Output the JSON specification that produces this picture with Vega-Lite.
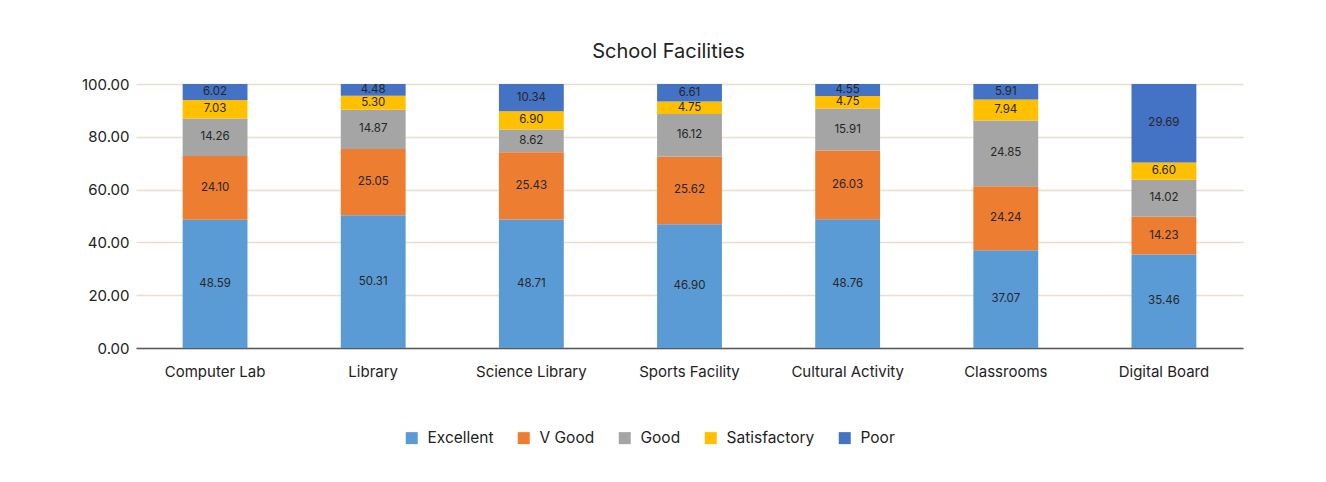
{
  "$schema": "https://vega.github.io/schema/vega-lite/v6.json",
  "autosize": "none",
  "width": 1107,
  "height": 264,
  "padding": {"left": 136, "top": 84, "right": 83, "bottom": 134},
  "background": "white",
  "config": {
    "font": "Inter",
    "view": {"stroke": null}
  },
  "title": {
    "text": "School Facilities",
    "fontSize": 20,
    "fontWeight": "normal",
    "color": "#222222",
    "baseline": "alphabetic",
    "offset": -1,
    "dx": -21,
    "anchor": "middle"
  },
  "data": {
    "values": [
      {"facility": "Computer Lab", "rating": "Excellent", "rank": 1, "value": 48.59},
      {"facility": "Computer Lab", "rating": "V Good", "rank": 2, "value": 24.10},
      {"facility": "Computer Lab", "rating": "Good", "rank": 3, "value": 14.26},
      {"facility": "Computer Lab", "rating": "Satisfactory", "rank": 4, "value": 7.03},
      {"facility": "Computer Lab", "rating": "Poor", "rank": 5, "value": 6.02},
      {"facility": "Library", "rating": "Excellent", "rank": 1, "value": 50.31},
      {"facility": "Library", "rating": "V Good", "rank": 2, "value": 25.05},
      {"facility": "Library", "rating": "Good", "rank": 3, "value": 14.87},
      {"facility": "Library", "rating": "Satisfactory", "rank": 4, "value": 5.30},
      {"facility": "Library", "rating": "Poor", "rank": 5, "value": 4.48},
      {"facility": "Science Library", "rating": "Excellent", "rank": 1, "value": 48.71},
      {"facility": "Science Library", "rating": "V Good", "rank": 2, "value": 25.43},
      {"facility": "Science Library", "rating": "Good", "rank": 3, "value": 8.62},
      {"facility": "Science Library", "rating": "Satisfactory", "rank": 4, "value": 6.90},
      {"facility": "Science Library", "rating": "Poor", "rank": 5, "value": 10.34},
      {"facility": "Sports Facility", "rating": "Excellent", "rank": 1, "value": 46.90},
      {"facility": "Sports Facility", "rating": "V Good", "rank": 2, "value": 25.62},
      {"facility": "Sports Facility", "rating": "Good", "rank": 3, "value": 16.12},
      {"facility": "Sports Facility", "rating": "Satisfactory", "rank": 4, "value": 4.75},
      {"facility": "Sports Facility", "rating": "Poor", "rank": 5, "value": 6.61},
      {"facility": "Cultural Activity", "rating": "Excellent", "rank": 1, "value": 48.76},
      {"facility": "Cultural Activity", "rating": "V Good", "rank": 2, "value": 26.03},
      {"facility": "Cultural Activity", "rating": "Good", "rank": 3, "value": 15.91},
      {"facility": "Cultural Activity", "rating": "Satisfactory", "rank": 4, "value": 4.75},
      {"facility": "Cultural Activity", "rating": "Poor", "rank": 5, "value": 4.55},
      {"facility": "Classrooms", "rating": "Excellent", "rank": 1, "value": 37.07},
      {"facility": "Classrooms", "rating": "V Good", "rank": 2, "value": 24.24},
      {"facility": "Classrooms", "rating": "Good", "rank": 3, "value": 24.85},
      {"facility": "Classrooms", "rating": "Satisfactory", "rank": 4, "value": 7.94},
      {"facility": "Classrooms", "rating": "Poor", "rank": 5, "value": 5.91},
      {"facility": "Digital Board", "rating": "Excellent", "rank": 1, "value": 35.46},
      {"facility": "Digital Board", "rating": "V Good", "rank": 2, "value": 14.23},
      {"facility": "Digital Board", "rating": "Good", "rank": 3, "value": 14.02},
      {"facility": "Digital Board", "rating": "Satisfactory", "rank": 4, "value": 6.60},
      {"facility": "Digital Board", "rating": "Poor", "rank": 5, "value": 29.69}
    ]
  },
  "encoding": {
    "x": {
      "field": "facility",
      "type": "nominal",
      "sort": null,
      "scale": {"paddingInner": 0.59, "paddingOuter": 0.295},
      "axis": {
        "title": null,
        "labelAngle": 0,
        "labelFontSize": 15,
        "labelColor": "#222222",
        "labelPadding": 16,
        "ticks": false,
        "domainColor": "#595959",
        "domainWidth": 1.5
      }
    },
    "y": {
      "field": "value",
      "type": "quantitative",
      "stack": "zero",
      "scale": {"domain": [0, 100], "nice": false},
      "axis": {
        "title": null,
        "values": [0, 20, 40, 60, 80, 100],
        "format": ".2f",
        "labelFontSize": 15,
        "labelColor": "#222222",
        "labelPadding": 7,
        "ticks": false,
        "domain": false,
        "gridColor": "#E8E0CC",
        "gridWidth": 1.5
      }
    },
    "order": {"field": "rank", "type": "quantitative"}
  },
  "layer": [
    {
      "mark": {"type": "bar"},
      "encoding": {
        "color": {
          "field": "rating",
          "type": "nominal",
          "sort": ["Excellent", "V Good", "Good", "Satisfactory", "Poor"],
          "scale": {
            "domain": ["Excellent", "V Good", "Good", "Satisfactory", "Poor"],
            "range": ["#5B9BD5", "#ED7D31", "#A5A5A5", "#FFC000", "#4472C4"]
          },
          "legend": {
            "title": null,
            "orient": "none",
            "direction": "horizontal",
            "legendX": 268,
            "legendY": 346,
            "symbolType": "square",
            "symbolSize": 144,
            "symbolStrokeWidth": 0,
            "labelFontSize": 15.5,
            "labelColor": "#222222",
            "labelOffset": 8,
            "columnPadding": 22,
            "encode": {
              "symbols": {
                "update": {
                  "fill": {"signal": "datum.value === 'Excellent' ? '#4472C4' : datum.value === 'V Good' ? '#ED7D31' : datum.value === 'Good' ? '#A5A5A5' : datum.value === 'Satisfactory' ? '#FFC000' : '#4472C4'"}
                }
              }
            }
          }
        }
      }
    },
    {
      "mark": {"type": "text", "fontSize": 11.5, "color": "#262626"},
      "encoding": {
        "y": {"field": "value", "type": "quantitative", "stack": "zero", "bandPosition": 0.5},
        "text": {"field": "value", "type": "quantitative", "format": ".2f"}
      }
    }
  ]
}
